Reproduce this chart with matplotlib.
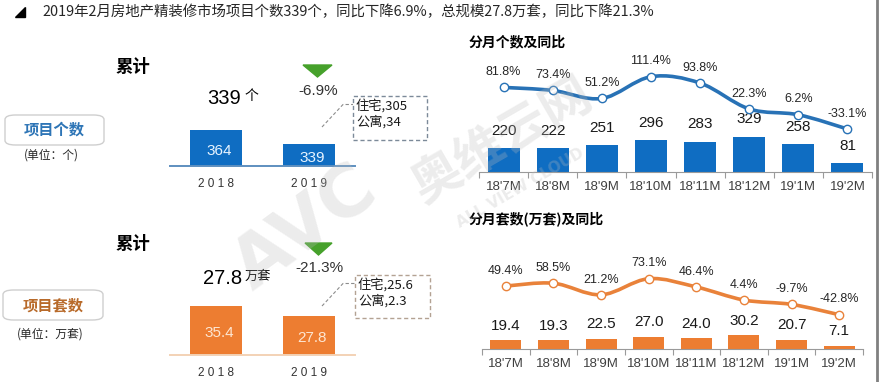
import numpy as np
import matplotlib
matplotlib.use('Agg')
import matplotlib.pyplot as plt
from matplotlib.path import Path
from matplotlib.patches import PathPatch, Polygon, Rectangle, FancyBboxPatch
from matplotlib.lines import Line2D

plt.rcParams['font.family'] = ['Liberation Sans', 'Noto Sans CJK SC', 'DejaVu Sans']
CJK = ['Noto Sans CJK SC', 'DejaVu Sans']

# data
years = ['2018', '2019']
cnt_total = [364, 339]
units_total = [35.4, 27.8]
months = ["18'7M", "18'8M", "18'9M", "18'10M", "18'11M", "18'12M", "19'1M", "19'2M"]
cnt_month = [220, 222, 251, 296, 283, 329, 258, 81]
cnt_yoy = [81.8, 73.4, 51.2, 111.4, 93.8, 22.3, 6.2, -33.1]
units_month = [19.4, 19.3, 22.5, 27.0, 24.0, 30.2, 20.7, 7.1]
units_yoy = [49.4, 58.5, 21.2, 73.1, 46.4, 4.4, -9.7, -42.8]

BLUE = '#0F6DC2'
BLUE_LINE = '#2872B6'
ORANGE = '#ED7D31'
ORANGE_LINE = '#E9823A'
GREEN = '#46A12B'

W, H = 880, 382
fig = plt.figure(figsize=(W / 100, H / 100), dpi=100)


def fx(x):
    return x / W


def fy(y):
    return 1 - y / H


def px_axes(x0, y0, x1, y1):
    ax = fig.add_axes([x0 / W, 1 - y1 / H, (x1 - x0) / W, (y1 - y0) / H])
    ax.patch.set_alpha(0)
    return ax


def smooth_path(xs, ys):
    # Excel-like smoothed line: cubic bezier through the points
    pts = np.column_stack([xs, ys]).astype(float)
    ext = np.vstack([pts[0], pts, pts[-1]])
    verts = [tuple(pts[0])]
    codes = [Path.MOVETO]
    for i in range(1, len(ext) - 2):
        p0, p1, p2, p3 = ext[i - 1], ext[i], ext[i + 1], ext[i + 2]
        verts += [tuple(p1 + (p2 - p0) / 6), tuple(p2 - (p3 - p1) / 6), tuple(p2)]
        codes += [Path.CURVE4] * 3
    return Path(verts, codes)


def total_panel(box, vals, ylim, color, base_color, txt_color):
    ax = px_axes(*box)
    x = np.arange(len(vals))
    ax.bar(x, vals, width=0.556, color=color, zorder=2)
    ax.set_xlim(-0.492, 1.487)
    ax.set_ylim(ylim)
    for s in ['top', 'right', 'left']:
        ax.spines[s].set_visible(False)
    ax.spines['bottom'].set_color(base_color)
    ax.spines['bottom'].set_linewidth(1.4)
    ax.set_yticks([])
    ax.set_xticks(x)
    ax.set_xticklabels([' '.join(y) for y in years], fontsize=8.5, color='#333333',
                       family=['Liberation Sans'])
    ax.tick_params(axis='x', length=0, pad=8.5)
    for xi, v in zip(x, vals):
        ax.annotate(f'{v:g}' if isinstance(v, int) else f'{v:.1f}', (xi, (ylim[0] + v) / 2),
                    xytext=(2, -2), textcoords='offset points', ha='center', va='center',
                    fontsize=11, color=txt_color)
    return ax


def month_panel(box, bars, pcts, bar_ylim, pct_ylim, color, line_color, bar_off, fmt):
    ax = px_axes(*box)
    n = len(bars)
    x = np.arange(n)
    ax.bar(x, bars, width=0.65, color=color, zorder=2)
    ax.set_xlim(-0.5, n - 0.5)
    ax.set_ylim(bar_ylim)
    for s in ['top', 'right', 'left']:
        ax.spines[s].set_visible(False)
    ax.spines['bottom'].set_color('#9A9A9A')
    ax.set_yticks([])
    ax.set_xticks(np.arange(-0.5, n, 1))
    ax.set_xticklabels([])
    ax.tick_params(axis='x', which='major', length=4, color='#9A9A9A', direction='out')
    ax.set_xticks(x, minor=True)
    ax.set_xticklabels(months, minor=True, fontsize=9.5, color='#404040')
    ax.tick_params(axis='x', which='minor', length=0, pad=6.5)
    for xi, v in zip(x, bars):
        ax.annotate(fmt(v), (xi, v), xytext=(0, bar_off), textcoords='offset points',
                    ha='center', va='center', fontsize=11, color='#1a1a1a')
    ax2 = ax.twinx()
    ax2.set_ylim(pct_ylim)
    ax2.patch.set_alpha(0)
    for s in ax2.spines.values():
        s.set_visible(False)
    ax2.set_yticks([])
    ax2.add_patch(PathPatch(smooth_path(x, pcts), fill=False, edgecolor=line_color,
                            lw=2.6, zorder=3, capstyle='round'))
    ax2.plot(x, pcts, 'o', ms=6, mfc='white', mec=line_color, mew=1.0, zorder=4)
    for xi, p in zip(x, pcts):
        ax2.annotate(f'{p:.1f}%', (xi, p), xytext=(0, 11), textcoords='offset points',
                     ha='center', va='center', fontsize=9, color='#262626')
    return ax


# header
fig.patches.append(Polygon([(fx(15), fy(16.7)), (fx(25), fy(16.7)), (fx(25), fy(7.3))],
                           closed=True, color='black', transform=fig.transFigure))
fig.text(fx(42), fy(12), '2019年2月房地产精装修市场项目个数339个，同比下降6.9%，总规模27.8万套，同比下降21.3%',
         fontsize=10.4, family=CJK, color='#262626', va='center', ha='left')

# side buttons
for (x0, y0, x1, y1), label, col, unit, uy in [((5, 115, 104, 145), '项目个数', '#2E75B6', '(单位：个)', 155),
                                               ((3, 290, 103, 320), '项目套数', '#B86A2A', '(单位：万套)', 334)]:
    fig.patches.append(FancyBboxPatch((fx(x0), fy(y1)), fx(x1 - x0), (y1 - y0) / H,
                                      boxstyle='round,pad=0,rounding_size=0.012',
                                      transform=fig.transFigure, facecolor='white',
                                      edgecolor='#CFCFCF', lw=1.0))
    fig.text(fx((x0 + x1) / 2), fy((y0 + y1) / 2), label, fontsize=11, weight='bold',
             family=CJK, color=col, ha='center', va='center')
    fig.text(fx((x0 + x1) / 2 - 3), fy(uy), unit, fontsize=8.5, family=CJK,
             color='#262626', ha='center', va='center')

# cumulative panels
total_panel((170, 120, 355, 166), cnt_total, (300, 382.1), BLUE, '#5E8FBF', '#E8F4FF')
total_panel((170, 295, 355, 355), units_total, (0, 43.2), ORANGE, '#F3D2B5', '#FDE6D2')

for y in (67, 244):
    fig.text(fx(133), fy(y), '累计', fontsize=12.5, weight='bold', family=CJK,
             color='black', ha='center', va='center')

fig.text(fx(207), fy(98), '339', fontsize=14.5, color='black', ha='left', va='center')
fig.text(fx(245), fy(96), '个', fontsize=10, family=CJK, color='black', ha='left', va='center')
fig.text(fx(203), fy(278.5), '27.8', fontsize=14.5, color='black', ha='left', va='center')
fig.text(fx(245), fy(276), '万套', fontsize=9.5, family=CJK, color='black', ha='left', va='center')

for (tx, ty), pct in [((318, 91), '-6.9%'), ((319, 268), '-21.3%')]:
    fig.text(fx(tx), fy(ty), pct, fontsize=11, color='#333333', ha='center', va='center')

for x0, x1, y0, y1 in [(303, 332, 65, 77), (305, 332, 243, 255)]:
    fig.patches.append(Polygon([(fx(x0), fy(y0)), (fx(x1), fy(y0)), (fx((x0 + x1) / 2), fy(y1))],
                               closed=True, color=GREEN, transform=fig.transFigure))

for (x0, y0, x1, y1), lines, ec in [((353, 96, 427, 140), ['住宅,305', '公寓,34'], '#7C8A99'),
                                     ((355, 275, 430, 318), ['住宅,25.6', '公寓,2.3'], '#B3A293')]:
    fig.patches.append(Rectangle((fx(x0), fy(y1)), fx(x1 - x0), (y1 - y0) / H, fill=False,
                                 edgecolor=ec, lw=1.0, ls=(0, (3, 2)), transform=fig.transFigure))
    fig.lines.append(Line2D([fx(322), fx(343), fx(x0)], [fy(y0 + 31), fy(y0 + 8.5), fy(y0 + 8.5)],
                            color='#8C8C8C', lw=0.8, ls=(0, (3, 2)), transform=fig.transFigure))
    fig.text(fx(x0 + 3), fy(y0 + 10), lines[0], fontsize=9.5, family=CJK, color='#1a1a1a',
             ha='left', va='center')
    fig.text(fx(x0 + 3), fy(y0 + 26), lines[1], fontsize=9.5, family=CJK, color='#1a1a1a',
             ha='left', va='center')

# monthly panels
fig.text(fx(469), fy(42), '分月个数及同比', fontsize=10, weight='bold', family=CJK,
         color='black', ha='left', va='center')
fig.text(fx(469), fy(219), '分月套数(万套)及同比', fontsize=10, weight='bold', family=CJK,
         color='black', ha='left', va='center')

month_panel((479, 60, 872, 172), cnt_month, cnt_yoy, (0, 1044), (-151.9, 157.5),
            BLUE, BLUE_LINE, 12.5, lambda v: f'{v}')
month_panel((482, 240, 863, 349), units_month, units_yoy, (0, 240.3), (-153.3, 197.7),
            ORANGE, ORANGE_LINE, 10.5, lambda v: f'{v:.1f}')

# right border
fig.lines.append(Line2D([fx(877), fx(877)], [0, 1], color='#808080', lw=2,
                        transform=fig.transFigure))

# watermark
fig.text(fx(305), fy(228), 'AVC', fontsize=52, weight='bold', family=['DejaVu Sans'],
         color='#BDBDBD', alpha=0.28, rotation=36, ha='center', va='center', zorder=10)
fig.text(fx(503), fy(141), '奥维云网', fontsize=36, weight='bold', family=CJK,
         color='#BDBDBD', alpha=0.28, rotation=30, ha='center', va='center', zorder=10)
fig.text(fx(520), fy(188), 'ALL VIEW CLOUD', fontsize=11, weight='bold', family=['DejaVu Sans'],
         color='#BDBDBD', alpha=0.28, rotation=30, ha='center', va='center', zorder=10)

fig.savefig('out.png', dpi=100)
